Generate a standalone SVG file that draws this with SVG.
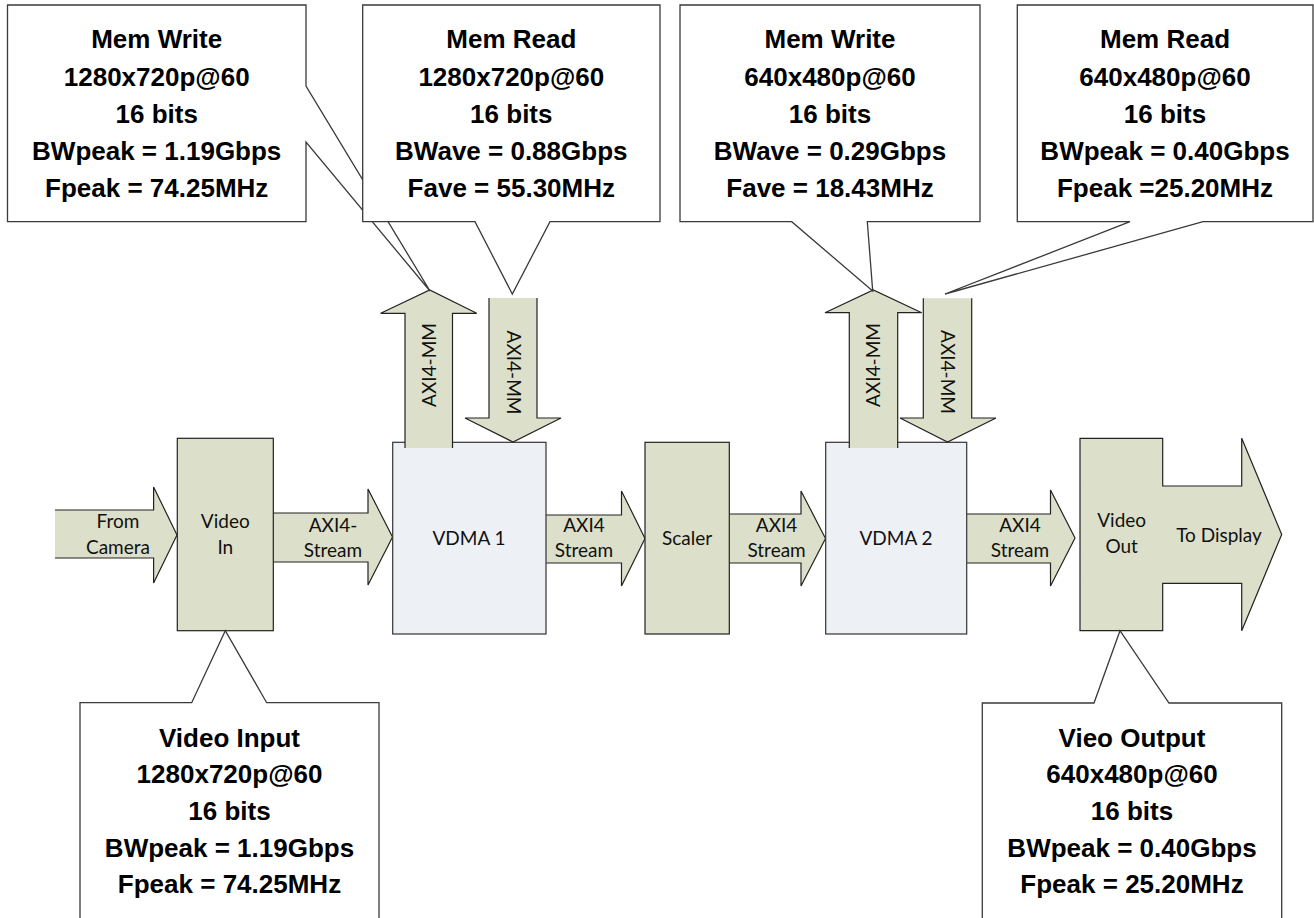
<svg xmlns="http://www.w3.org/2000/svg" width="1314" height="918" viewBox="0 0 1314 918">
<style>
.co{fill:#fff;stroke:#3a3a3a;stroke-width:1.3}
.ct{font-family:"Liberation Sans",Arial,sans-serif;font-weight:bold;font-size:26px;fill:#000;text-anchor:middle}
.gr{fill:#dce0ca;stroke:#222;stroke-width:1.2}
.bl{fill:#edf0f5;stroke:#333;stroke-width:1.2}
.lb{font-family:Lato,"Open Sans",sans-serif;font-size:19px;fill:#111;text-anchor:middle}
</style>
<rect width="1314" height="918" fill="#fff"/>

<g id="connectors">
  <path class="gr" d="M55,510 H153.6 V487 L177,535 L153.6,583 V558 H55"/>
  <path class="gr" d="M273.3,513 H368 V489 L392.5,537 L368,585 V562 H273.3"/>
  <path class="gr" d="M546,515 H621.5 V491 L645,538.5 L621.5,586 V563 H546"/>
  <path class="gr" d="M729.3,514 H801 V491 L825.5,538.5 L801,586 V563 H729.3"/>
  <path class="gr" d="M966.7,514 H1050.5 V490 L1075,538 L1050.5,586 V563 H966.7"/>
</g>

<g id="video-in">
  <rect class="gr" x="177.3" y="438.3" width="96" height="192.4"/>
  <text class="lb" x="225.3" y="528">Video</text>
  <text class="lb" x="225.3" y="554">In</text>
</g>
<g id="vdma1">
  <rect class="bl" x="392.7" y="442.3" width="153.3" height="191.7"/>
  <text class="lb" x="469" y="545">VDMA 1</text>
</g>
<g id="scaler">
  <rect class="gr" x="645" y="442.3" width="84.3" height="191.7"/>
  <text class="lb" x="687" y="545">Scaler</text>
</g>
<g id="vdma2">
  <rect class="bl" x="825.7" y="442.3" width="141" height="191.7"/>
  <text class="lb" x="896" y="545">VDMA 2</text>
</g>
<g id="video-out">
  <path class="gr" d="M1080,438.3 H1162.7 V486 H1241.7 V438.3 L1281.7,534.5 L1241.7,630.7 V583.3 H1162.7 V630.7 H1080 Z"/>
  <text class="lb" x="1121.7" y="527.3">Video</text>
  <text class="lb" x="1121.7" y="553.3">Out</text>
  <text class="lb" x="1219" y="541.7">To Display</text>
</g>

<g id="flow-labels">
  <text class="lb" x="118" y="528">From</text>
  <text class="lb" x="118" y="554">Camera</text>
  <text class="lb" x="333" y="531.7">AXI4-</text>
  <text class="lb" x="333" y="556.7">Stream</text>
  <text class="lb" x="584" y="531.7">AXI4</text>
  <text class="lb" x="584" y="557.3">Stream</text>
  <text class="lb" x="776.6" y="531.7">AXI4</text>
  <text class="lb" x="776.6" y="557.3">Stream</text>
  <text class="lb" x="1020" y="531.7">AXI4</text>
  <text class="lb" x="1020" y="557.3">Stream</text>
</g>

<g id="mm-arrows">
  <path class="gr" d="M405,448 V313.3 H380.7 L429.7,290 L476.7,313.3 H452.5 V448"/>
  <path class="gr" d="M489,298 V418 H465 L513,442 L561,418 H537 V298"/>
  <path class="gr" d="M849.3,448 V312.7 H825 L873.3,290 L921.7,312.7 H897.7 V448"/>
  <path class="gr" d="M923.3,298.3 V418 H900 L947.5,442 L996,418 H971.7 V298.3"/>
  <text class="lb" transform="translate(435.5,365) rotate(-90)">AXI4-MM</text>
  <text class="lb" transform="translate(506.5,372.5) rotate(90)">AXI4-MM</text>
  <text class="lb" transform="translate(880,365) rotate(-90)">AXI4-MM</text>
  <text class="lb" transform="translate(941,372) rotate(90)">AXI4-MM</text>
</g>

<g id="callout-memwrite1">
  <path class="co" d="M7.5,5 H306 V86 L430,291 L306,142 V221.7 H7.5 Z"/>
  <text class="ct" x="156.7" y="48">Mem Write</text>
  <text class="ct" x="156.7" y="86">1280x720p@60</text>
  <text class="ct" x="156.7" y="123">16 bits</text>
  <text class="ct" x="156.7" y="160">BWpeak = 1.19Gbps</text>
  <text class="ct" x="156.7" y="197">Fpeak = 74.25MHz</text>
</g>
<g id="callout-memread1">
  <path class="co" d="M362.7,5 H660 V221.7 H550 L512.3,294 L475,221.7 H362.7 Z"/>
  <text class="ct" x="511.3" y="48">Mem Read</text>
  <text class="ct" x="511.3" y="86">1280x720p@60</text>
  <text class="ct" x="511.3" y="123">16 bits</text>
  <text class="ct" x="511.3" y="160">BWave = 0.88Gbps</text>
  <text class="ct" x="511.3" y="197">Fave = 55.30MHz</text>
</g>
<g id="callout-memwrite2">
  <path class="co" d="M680,5 H980 V221.7 H867.3 L872.7,291 L791.7,221.7 H680 Z"/>
  <text class="ct" x="830" y="48">Mem Write</text>
  <text class="ct" x="830" y="86">640x480p@60</text>
  <text class="ct" x="830" y="123">16 bits</text>
  <text class="ct" x="830" y="160">BWave = 0.29Gbps</text>
  <text class="ct" x="830" y="197">Fave = 18.43MHz</text>
</g>
<g id="callout-memread2">
  <path class="co" d="M1017.3,5 H1313 V221.7 H1203 L945,294 L1130,221.7 H1017.3 Z"/>
  <text class="ct" x="1165" y="48">Mem Read</text>
  <text class="ct" x="1165" y="86">640x480p@60</text>
  <text class="ct" x="1165" y="123">16 bits</text>
  <text class="ct" x="1165" y="160">BWpeak = 0.40Gbps</text>
  <text class="ct" x="1165" y="197">Fpeak =25.20MHz</text>
</g>
<g id="callout-videoinput">
  <path class="co" d="M80,925 V702.7 H191.7 L225.3,630.7 L266.7,702.7 H379 V925"/>
  <text class="ct" x="229.5" y="746.7">Video Input</text>
  <text class="ct" x="229.5" y="783">1280x720p@60</text>
  <text class="ct" x="229.5" y="820">16 bits</text>
  <text class="ct" x="229.5" y="856.7">BWpeak = 1.19Gbps</text>
  <text class="ct" x="229.5" y="893.3">Fpeak = 74.25MHz</text>
</g>
<g id="callout-videooutput">
  <path class="co" d="M982.3,925 V703 H1094 L1120,630.7 L1169,703 H1281.7 V925"/>
  <text class="ct" x="1132" y="746.7">Vieo Output</text>
  <text class="ct" x="1132" y="783">640x480p@60</text>
  <text class="ct" x="1132" y="820">16 bits</text>
  <text class="ct" x="1132" y="856.7">BWpeak = 0.40Gbps</text>
  <text class="ct" x="1132" y="893.3">Fpeak = 25.20MHz</text>
</g>
</svg>
